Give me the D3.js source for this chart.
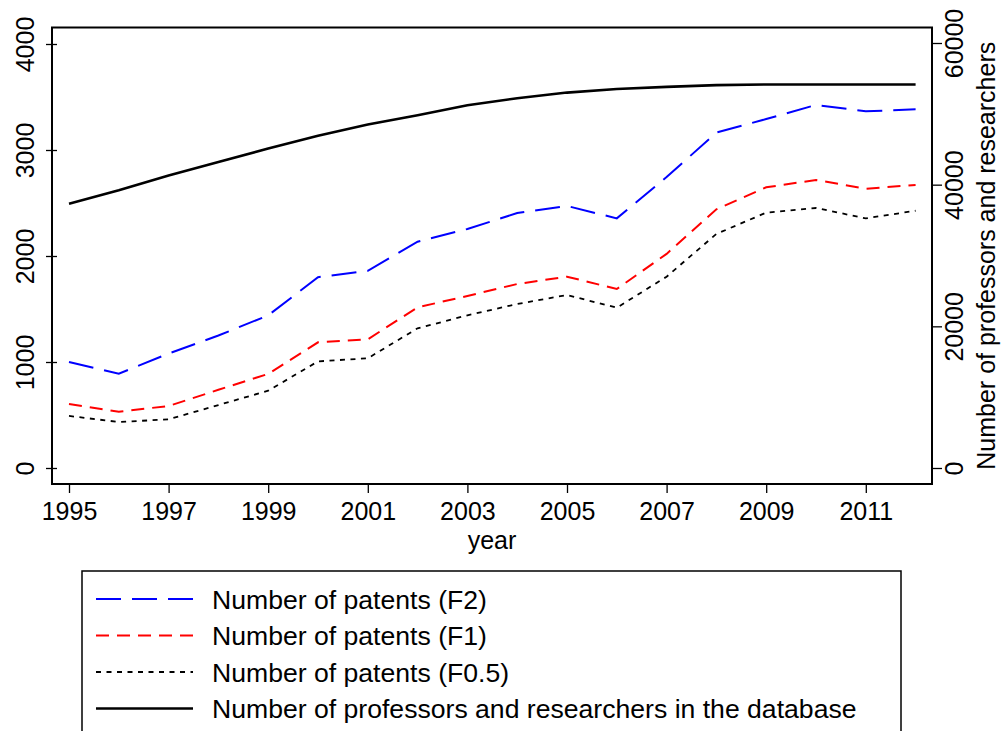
<!DOCTYPE html>
<html>
<head>
<meta charset="utf-8">
<script src="https://cdn.jsdelivr.net/npm/d3@7"></script>
<style>
  body { margin: 0; background: #fff; }
  text { font-family: "Liberation Sans", Arial, Helvetica, sans-serif; fill: #000; }
</style>
</head>
<body>
<div id="chart"></div>
<script>
// data
var years = [1995, 1996, 1997, 1998, 1999, 2000, 2001, 2002, 2003, 2004, 2005, 2006, 2007, 2008, 2009, 2010, 2011, 2012];
var patentsF2 = [1000, 890, 1080, 1250, 1440, 1800, 1860, 2135, 2255, 2405, 2472, 2355, 2745, 3164, 3292, 3425, 3365, 3384];
var patentsF1 = [604, 531, 585, 738, 888, 1186, 1214, 1516, 1623, 1736, 1805, 1689, 2020, 2440, 2648, 2717, 2635, 2670];
var patentsF05 = [491, 434, 459, 594, 729, 1006, 1035, 1318, 1440, 1547, 1632, 1512, 1805, 2208, 2409, 2453, 2355, 2427];
var professors = [37300, 39200, 41300, 43200, 45100, 46900, 48500, 49800, 51200, 52200, 53000, 53500, 53800, 54050, 54150, 54150, 54150, 54150];

var xTicks = [1995, 1997, 1999, 2001, 2003, 2005, 2007, 2009, 2011];
var leftTicks = [0, 1000, 2000, 3000, 4000];
var rightTicks = [0, 20000, 40000, 60000];

var legendLabels = [
    "Number of patents (F2)",
    "Number of patents (F1)",
    "Number of patents (F0.5)",
    "Number of professors and researchers in the database"
];

var width = 1003, height = 731;
var frame = { left: 52, right: 932, top: 27.5, bottom: 484 };

var svg = d3.select('#chart')
    .append('svg')
    .attr('width', width)
    .attr('height', height);

var xScale = d3.scaleLinear().domain([1995, 2012]).range([69, 915.6]);
var yLeft = d3.scaleLinear().domain([0, 4000]).range([468, 44]);
var yRight = d3.scaleLinear().domain([0, 60000]).range([468, 43]);

// plot region border
svg.append('rect')
    .attr('x', frame.left)
    .attr('y', frame.top)
    .attr('width', frame.right - frame.left)
    .attr('height', frame.bottom - frame.top)
    .attr('fill', 'none')
    .attr('stroke', '#000')
    .attr('stroke-width', 2);

// x axis
var xAxis = svg.append('g')
    .attr('transform', 'translate(0,' + frame.bottom + ')')
    .call(d3.axisBottom(xScale).tickValues(xTicks).tickFormat(d3.format('d')).tickSize(9));
xAxis.select('.domain').remove();
xAxis.selectAll('line').attr('stroke', '#000').attr('stroke-width', 1.3);
xAxis.selectAll('text')
    .attr('y', 36)
    .attr('dy', 0)
    .style('font-size', '25px');

// left axis, labels turned upright
var leftAxis = svg.append('g')
    .attr('transform', 'translate(' + frame.left + ',0)')
    .call(d3.axisLeft(yLeft).tickValues(leftTicks).tickFormat(d3.format('d')));
leftAxis.select('.domain').remove();
leftAxis.selectAll('line')
    .attr('x1', 5)
    .attr('x2', -6)
    .attr('stroke', '#000')
    .attr('stroke-width', 1.3);
leftAxis.selectAll('text')
    .attr('transform', 'rotate(-90)')
    .attr('x', 0)
    .attr('y', -18)
    .attr('dy', 0)
    .attr('text-anchor', 'middle')
    .style('font-size', '25px');

// right axis
var rightAxis = svg.append('g')
    .attr('transform', 'translate(' + frame.right + ',0)')
    .call(d3.axisRight(yRight).tickValues(rightTicks).tickFormat(d3.format('d')).tickSize(10));
rightAxis.select('.domain').remove();
rightAxis.selectAll('line').attr('stroke', '#000').attr('stroke-width', 1.3);
rightAxis.selectAll('text')
    .attr('transform', 'rotate(-90)')
    .attr('x', 0)
    .attr('y', 31)
    .attr('dy', 0)
    .attr('text-anchor', 'middle')
    .style('font-size', '25px');

// axis titles
svg.append('text')
    .attr('x', (frame.left + frame.right) / 2)
    .attr('y', 549)
    .attr('text-anchor', 'middle')
    .style('font-size', '25px')
    .text('year');

svg.append('text')
    .attr('transform', 'translate(995,' + (frame.top + frame.bottom) / 2 + ') rotate(-90)')
    .attr('text-anchor', 'middle')
    .style('font-size', '25px')
    .text('Number of professors and researchers');

// series
var series = [
    { values: patentsF2, scale: yLeft, color: '#0000ff', dash: '25,11', w: 2 },
    { values: patentsF1, scale: yLeft, color: '#ff0000', dash: '13,8', w: 2 },
    { values: patentsF05, scale: yLeft, color: '#000000', dash: '5,5.5', w: 1.8 },
    { values: professors, scale: yRight, color: '#000000', dash: null, w: 2.6 }
];

series.forEach(function(s) {
    var line = d3.line()
        .x(function(d, i) { return xScale(years[i]); })
        .y(function(d) { return s.scale(d); });
    svg.append('path')
        .datum(s.values)
        .attr('d', line)
        .attr('fill', 'none')
        .attr('stroke', s.color)
        .attr('stroke-width', s.w)
        .attr('stroke-dasharray', s.dash);
});

// legend box runs off the bottom of the picture
var legend = svg.append('g');
legend.append('rect')
    .attr('x', 82)
    .attr('y', 571)
    .attr('width', 819)
    .attr('height', 220)
    .attr('fill', 'none')
    .attr('stroke', '#000')
    .attr('stroke-width', 1.5);

var rows = legend.selectAll('.legend')
    .data(series)
    .enter().append('g')
    .attr('class', 'legend')
    .attr('transform', function(d, i) { return 'translate(0,' + (599 + i * 36.5) + ')'; });

rows.append('line')
    .attr('x1', 96)
    .attr('x2', 193)
    .attr('stroke', function(d) { return d.color; })
    .attr('stroke-width', function(d) { return d.w; })
    .attr('stroke-dasharray', function(d) { return d.dash; });

rows.append('text')
    .attr('x', 212)
    .attr('y', 9.5)
    .style('font-size', '26.6px')
    .text(function(d, i) { return legendLabels[i]; });
</script>
</body>
</html>
